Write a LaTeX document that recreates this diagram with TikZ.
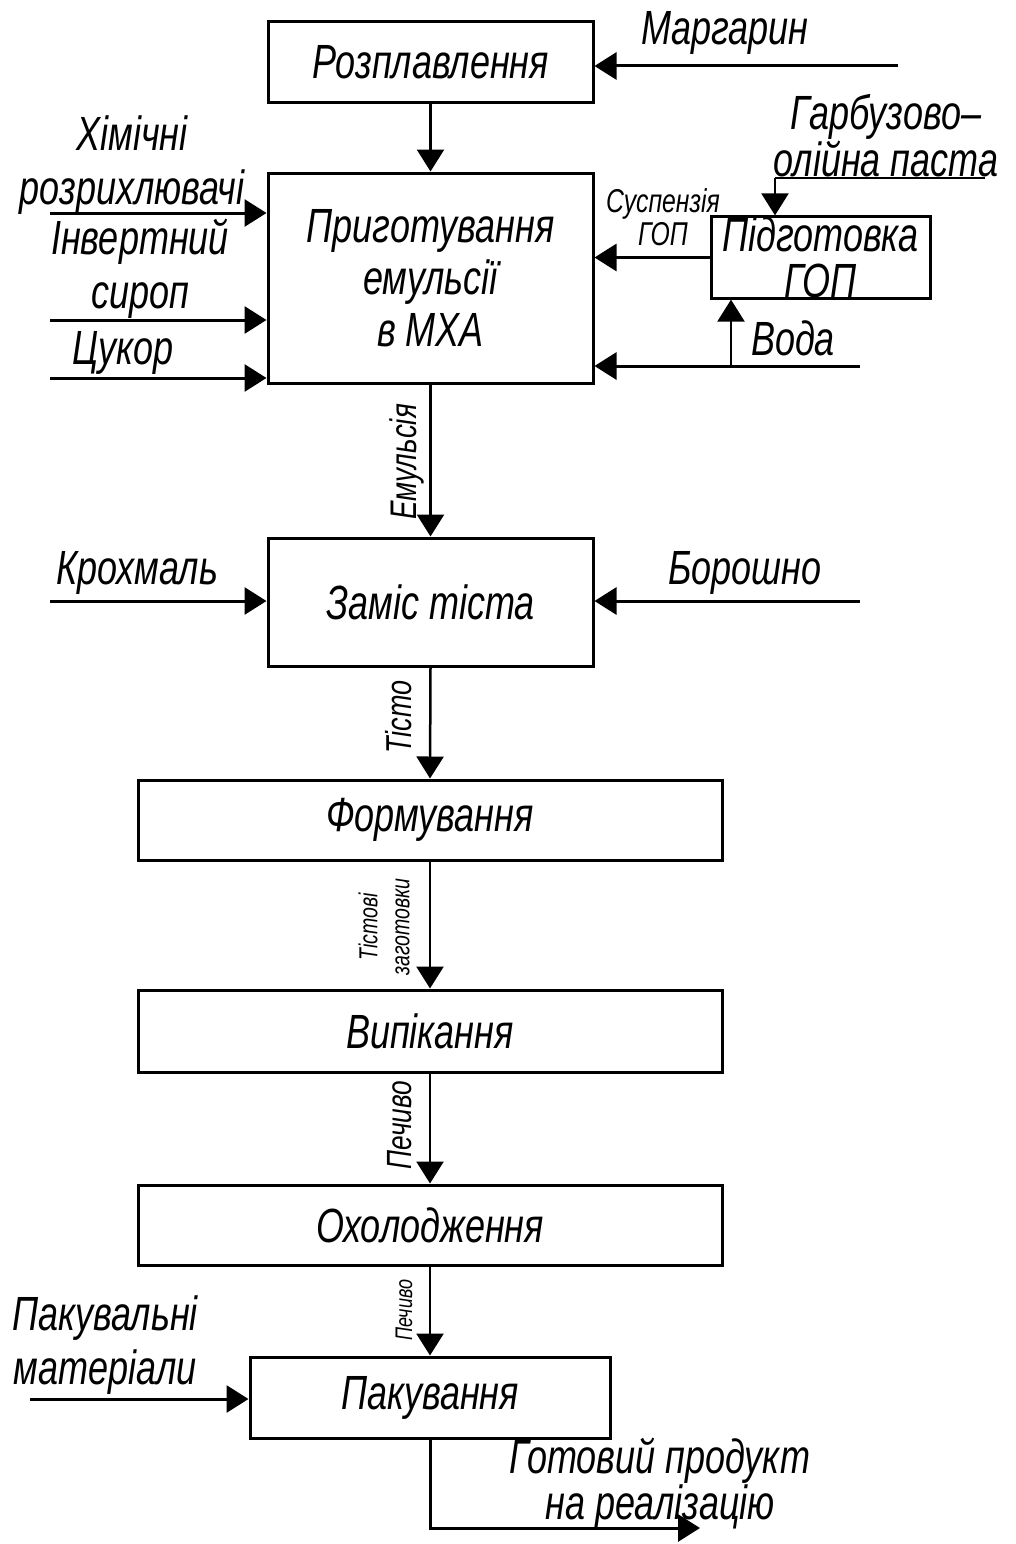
\documentclass[tikz,border=0pt]{standalone}
\usepackage{fontspec}
\setmainfont{Liberation Sans}[FakeStretch=0.75]
\usetikzlibrary{arrows.meta}
\begin{document}
\begin{tikzpicture}[x=1pt,y=-1pt,
  box/.style={draw, line width=3pt, inner sep=0pt, align=center,
    font=\itshape\fontsize{48}{52}\selectfont},
  flow/.style={line width=3pt, -{Triangle[length=22pt,width=27pt]}},
  vflow/.style={line width=2.5pt, -{Triangle[length=22pt,width=27pt]}},
  plain/.style={line width=2.5pt},
  lab/.style={inner sep=0pt, align=center, font=\itshape\fontsize{48}{54}\selectfont},
  slab/.style={inner sep=0pt, align=center, font=\itshape\fontsize{33}{33}\selectfont}]
\useasboundingbox (0,0) rectangle (1016,1544);
% boxes
\node[box, minimum width=325pt, minimum height=81pt] (rz) at (430.5,62.5) {Розплавлення};
\node[box, minimum width=325pt, minimum height=210pt] (em) at (430.5,278) {Приготування\\емульсії\\в МХА};
\node[box, minimum width=219pt, minimum height=81pt, font=\itshape\fontsize{48}{46}\selectfont] (gop) at (820.5,257.5) {Підготовка\\ГОП};
\node[box, minimum width=325pt, minimum height=128pt] (zm) at (430.5,602) {Заміс тіста};
\node[box, minimum width=584pt, minimum height=80pt] (fm) at (430,820) {Формування};
\node[box, minimum width=584pt, minimum height=82pt] (vp) at (430,1031) {Випікання};
\node[box, minimum width=584pt, minimum height=80pt] (oh) at (430,1225) {Охолодження};
\node[box, minimum width=360pt, minimum height=81pt] (pk) at (430,1397.5) {Пакування};
% labels
\node[lab] (lmarg) at (725,33) {Маргарин};
\node[lab] (lhim) at (132,165) {Хімічні\\розрихлювачі};
\node[lab] (linv) at (140,269) {Інвертний\\сироп};
\node[lab] (lcuk) at (123,353) {Цукор};
\node[slab] (lsusp) at (663,217) {Суспензія\\ГОП};
\node[lab, font=\itshape\fontsize{48}{47}\selectfont] (lgarb) at (886,136) {Гарбузово–\\олійна паста};
\node[lab] (lvoda) at (793,338) {Вода};
\node[lab] (lkroh) at (137,573) {Крохмаль};
\node[lab] (lbor) at (745,573) {Борошно};
\node[lab] (lpakm) at (105,1345) {Пакувальні\\матеріали};
\node[lab, font=\itshape\fontsize{48}{43}\selectfont] (lgot) at (660,1484) {Готовий продукт\\на реалізацію};
\node[inner sep=0pt, rotate=90, font=\itshape\fontsize{37}{37}\selectfont] (lemul) at (407,462) {Емульсія};
\node[inner sep=0pt, rotate=90, font=\itshape\fontsize{36}{36}\selectfont] (ltis) at (399,717) {Тісто};
\node[inner sep=0pt, rotate=90, align=center, font=\itshape\fontsize{26}{32}\selectfont] (ltz) at (384,927) {Тістові\\заготовки};
\node[inner sep=0pt, rotate=90, font=\itshape\fontsize{35}{35}\selectfont] (lpech1) at (400,1125) {Печиво};
\node[inner sep=0pt, rotate=90, font=\itshape\fontsize{24}{24}\selectfont] (lpech2) at (404,1310) {Печиво};
% free ends
\coordinate (cmarg) at (898,66);
\coordinate (chim) at (50,213);
\coordinate (cinv) at (50,320);
\coordinate (ccuk) at (50,378);
\coordinate (cgarb) at (985,178);
\coordinate (cgarbc) at (775,178);
\coordinate (cvoda) at (860,366);
\coordinate (cvodab) at (731,366);
\coordinate (ckroh) at (50,601);
\coordinate (cbor) at (860,601);
\coordinate (cpakm) at (30,1399);
\coordinate (cout) at (700,1528);
% connectors
\draw[flow] (cmarg) -- (cmarg -| rz.east);
\draw[vflow] (rz.south) -- (em.north);
\draw[flow] (chim) -- (chim -| em.west);
\draw[flow] (cinv) -- (cinv -| em.west);
\draw[flow] (ccuk) -- (ccuk -| em.west);
\draw[flow] (gop.west) -- (gop.west -| em.east);
\draw[plain] (cgarb) -- (cgarbc);
\draw[vflow] (cgarbc) -- (cgarbc |- gop.north);
\draw[flow] (cvoda) -- (cvoda -| em.east);
\draw[vflow] (cvodab) -- (cvodab |- gop.south);
\draw[vflow] (em.south) -- (zm.north);
\draw[flow] (ckroh) -- (ckroh -| zm.west);
\draw[flow] (cbor) -- (cbor -| zm.east);
\draw[vflow] (zm.south) -- (fm.north);
\draw[vflow] (fm.south) -- (vp.north);
\draw[vflow] (vp.south) -- (oh.north);
\draw[vflow] (oh.south) -- (pk.north);
\draw[flow] (cpakm) -- (cpakm -| pk.west);
\draw[flow] (pk.south) |- (cout);
\end{tikzpicture}
\end{document}
